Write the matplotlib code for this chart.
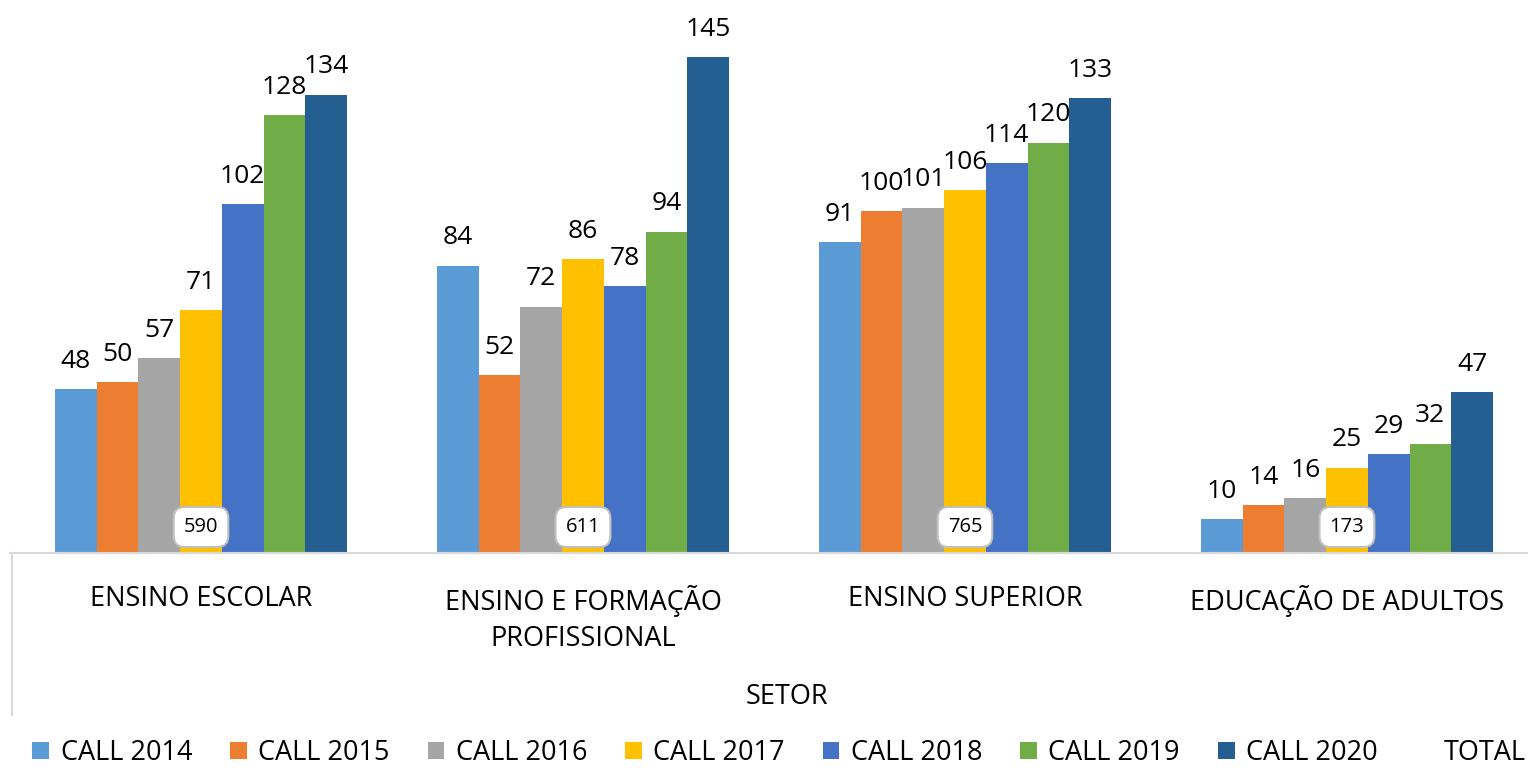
import matplotlib.pyplot as plt
import numpy as np

plt.rcParams['font.family'] = ['Open Sans', 'DejaVu Sans']

# data
sectors = ['ENSINO ESCOLAR', 'ENSINO E FORMAÇÃO\nPROFISSIONAL', 'ENSINO SUPERIOR', 'EDUCAÇÃO DE ADULTOS']
series = ['CALL 2014', 'CALL 2015', 'CALL 2016', 'CALL 2017', 'CALL 2018', 'CALL 2019', 'CALL 2020']
call_2014 = [48, 84, 91, 10]
call_2015 = [50, 52, 100, 14]
call_2016 = [57, 72, 101, 16]
call_2017 = [71, 86, 106, 25]
call_2018 = [102, 78, 114, 29]
call_2019 = [128, 94, 120, 32]
call_2020 = [134, 145, 133, 47]
values = [call_2014, call_2015, call_2016, call_2017, call_2018, call_2019, call_2020]
totals = [sum(v[i] for v in values) for i in range(len(sectors))]

colors = ['#5B9BD5', '#ED7D31', '#A5A5A5', '#FFC000', '#4472C4', '#70AD47', '#255E91']

fig = plt.figure(figsize=(15.28, 7.7), dpi=100)
ax = fig.add_axes([10 / 1528, 217 / 770, 1518 / 1528, 553 / 770])

x = np.arange(len(sectors))
bw = 292 / 382 / 7
handles = []
for k, (name, vals) in enumerate(zip(series, values)):
    pos = x - 3 * bw + k * bw
    b = ax.bar(pos, vals, width=bw, color=colors[k], label=name)
    handles.append(b)
    for p, v in zip(pos, vals):
        ax.annotate(str(v), (p, v), xytext=(0, 11), textcoords='offset points',
                    ha='center', va='bottom', fontsize=19)

for i, t in enumerate(totals):
    ax.text(x[i], 7.6, str(t), ha='center', va='center', fontsize=14.5,
            bbox=dict(boxstyle='round,pad=0.5,rounding_size=0.55', fc='white', ec='#BFBFBF', lw=1.5))

ax.set_xlim(-0.5, 3.474)
ax.set_ylim(0, 553 / 3.42)
ax.set_yticks([])
ax.set_xticks([])
for s in ['top', 'right', 'left']:
    ax.spines[s].set_visible(False)
ax.spines['bottom'].set_color('#D9D9D9')
ax.spines['bottom'].set_linewidth(1.5)

# category labels below the axis
for i, lab in enumerate(sectors):
    fig.text((201 + 382 * i) / 1528, 1 - 585 / 770, lab, ha='center', va='top',
             fontsize=19.5, linespacing=1.4)

fig.text(787 / 1528, 1 - 697 / 770, 'SETOR', ha='center', va='center', fontsize=19.5)

# field area border line
fig.add_artist(plt.Line2D([12 / 1528, 12 / 1528], [1 - 553 / 770, 1 - 715 / 770],
                          color='#D9D9D9', lw=1.5))

blank = plt.Rectangle((0, 0), 1, 1, fc='none', ec='none')
leg = fig.legend(handles + [blank], series + ['TOTAL'], loc='center', ncol=8,
                 bbox_to_anchor=(779 / 1528, 1 - 753 / 770), frameon=False, fontsize=19.5,
                 handlelength=0.62, handleheight=0.62, handletextpad=0.42, columnspacing=1.4)

fig.savefig('out.png', dpi=100)
